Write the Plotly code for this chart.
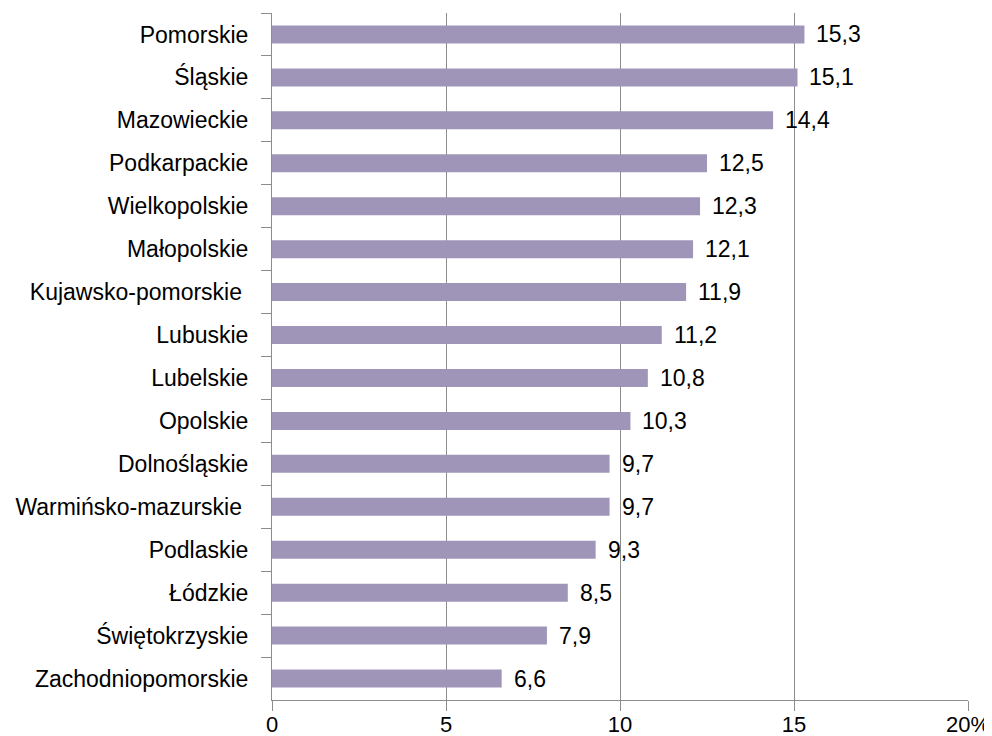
import plotly.graph_objects as go

# voivodeships, top to bottom as shown
regions = [
    "Pomorskie", "Śląskie", "Mazowieckie", "Podkarpackie", "Wielkopolskie",
    "Małopolskie", "Kujawsko-pomorskie ", "Lubuskie", "Lubelskie", "Opolskie",
    "Dolnośląskie", "Warmińsko-mazurskie ", "Podlaskie", "Łódzkie",
    "Świętokrzyskie", "Zachodniopomorskie",
]
values = [15.3, 15.1, 14.4, 12.5, 12.3, 12.1, 11.9, 11.2, 10.8, 10.3,
          9.7, 9.7, 9.3, 8.5, 7.9, 6.6]

tick_vals = [0, 5, 10, 15, 20]
tick_text = ["0", "5", "10", "15", "20%"]

bar_color = "#9F95B9"
axis_color = "#8C8C8C"
font_family = "Liberation Sans, Arial, sans-serif"
font_size = 23

# polish decimal comma
labels = [f"{v:.1f}".replace(".", ",") for v in values]

fig = go.Figure(go.Bar(
    x=values,
    y=regions,
    orientation="h",
    marker=dict(color=bar_color, line=dict(width=0)),
    hoverinfo="x+y",
))

for v, r, t in zip(values, regions, labels):
    fig.add_annotation(
        x=v, y=r, text=t,
        showarrow=False,
        xanchor="left",
        xshift=10,
        font=dict(size=font_size, color="#000000", family=font_family),
    )

# page body has an 8px margin, so the figure is a bit smaller than the window
fig.update_layout(
    width=984,
    height=728,
    margin=dict(l=264, r=24, t=5, b=36),
    plot_bgcolor="white",
    paper_bgcolor="white",
    bargap=0.58,
    showlegend=False,
    font=dict(family=font_family, size=font_size, color="#000000"),
)

fig.update_xaxes(
    range=[0, 20],
    tickvals=tick_vals,
    ticktext=tick_text,
    showgrid=True,
    gridcolor=axis_color,
    gridwidth=1,
    showline=True,
    linecolor=axis_color,
    linewidth=1,
    ticks="outside",
    ticklen=10,
    tickcolor=axis_color,
    ticklabelstandoff=-5,
    zeroline=False,
    automargin=False,
    tickfont=dict(size=22),
)

fig.update_yaxes(
    autorange="reversed",
    showline=True,
    linecolor=axis_color,
    linewidth=1,
    ticks="outside",
    tickson="boundaries",
    ticklen=10,
    tickcolor=axis_color,
    ticklabelstandoff=18,
    showgrid=False,
    automargin=False,
    tickfont=dict(size=font_size),
)

fig.write_html("out.html")
